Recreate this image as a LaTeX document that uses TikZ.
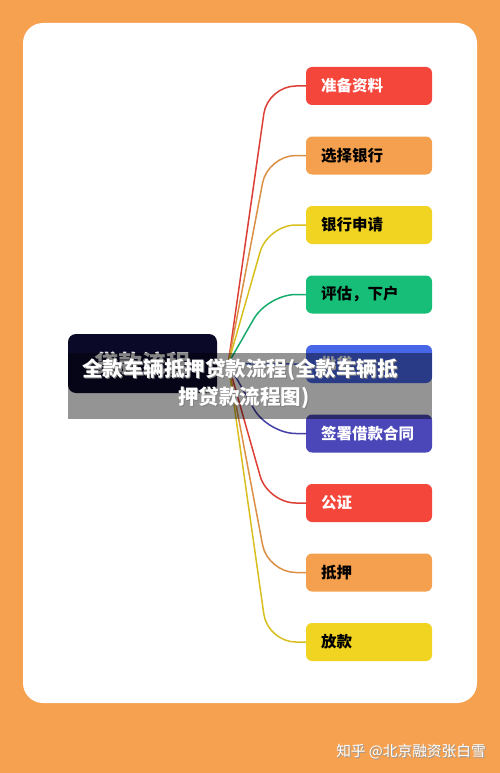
\documentclass[tikz,border=0pt]{standalone}
\usepackage{fontspec}
\setmainfont{Noto Sans CJK SC}
\usetikzlibrary{positioning, calc}
\definecolor{bgorange}{RGB}{245, 161, 80}
\definecolor{navy}{RGB}{10, 10, 40}
\definecolor{boxred}{RGB}{245, 70, 60}
\definecolor{boxorange}{RGB}{244, 160, 78}
\definecolor{boxyellow}{RGB}{240, 212, 33}
\definecolor{boxgreen}{RGB}{23, 190, 120}
\definecolor{boxblue}{RGB}{72, 103, 232}
\definecolor{boxindigo}{RGB}{75, 71, 185}

\begin{document}
\begin{tikzpicture}[x=1pt, y=-1pt,
    stepbox/.style={rounded corners=6pt, minimum height=38pt, text width=96pt,
        inner xsep=15pt, align=left, font=\fontsize{15.5}{17}\selectfont\bfseries},
    branch/.style={line width=1.5pt, rounded corners=28pt}]
    \useasboundingbox (0,0) rectangle (500,773);
    \fill[bgorange] (0,0) rectangle (500,773);
    \fill[white, rounded corners=20pt] (23,23) rectangle (477,703);

    % centre
    \node[fill=navy, rounded corners=8pt, minimum width=149pt, minimum height=59pt,
        text=white!80!gray, font=\fontsize{24}{26}\selectfont\bfseries] (c) at (142.5,363.5) {贷款流程};
    \coordinate (hub) at ($(c.east)+(11,0)$);

    % steps
    \foreach \i/\txt/\col/\tcol in {1/准备资料/boxred/white, 2/选择银行/boxorange/black,
        3/银行申请/boxyellow/black, 4/评估，下户/boxgreen/black, 5/批贷/boxblue/white,
        6/签署借款合同/boxindigo/white, 7/公证/boxred/white, 8/抵押/boxorange/black,
        9/放款/boxyellow/black}
    {
        \node[stepbox, fill=\col, text=\tcol] (s\i) at (369, {86+(\i-1)*69.5}) {\txt};
        \draw[branch, \col!90!black] (hub) -- ($(s\i.west)+(-38,0)$) -- (s\i.west);
    }

    % overlay
    \fill[black, opacity=0.42] (68,353) rectangle (432,419);
    \node[text=black!50, font=\fontsize{20.5}{22}\selectfont\bfseries] at (241,371) {全款车辆抵押贷款流程(全款车辆抵};
    \node[text=white, font=\fontsize{20.5}{22}\selectfont\bfseries] (t1) at (240,370) {全款车辆抵押贷款流程(全款车辆抵};
    \node[text=black!50, font=\fontsize{20.5}{22}\selectfont\bfseries] at (245,399) {押贷款流程图)};
    \node[text=white, font=\fontsize{20.5}{22}\selectfont\bfseries] (t2) at (244,398) {押贷款流程图)};

    % watermark
    \node[text=black!40, font=\fontsize{14.7}{16}\selectfont] at (412,753) {知乎 @北京融资张白雪};
    \node[text=white, font=\fontsize{14.7}{16}\selectfont] (wm) at (411,752) {知乎 @北京融资张白雪};
\end{tikzpicture}
\end{document}
